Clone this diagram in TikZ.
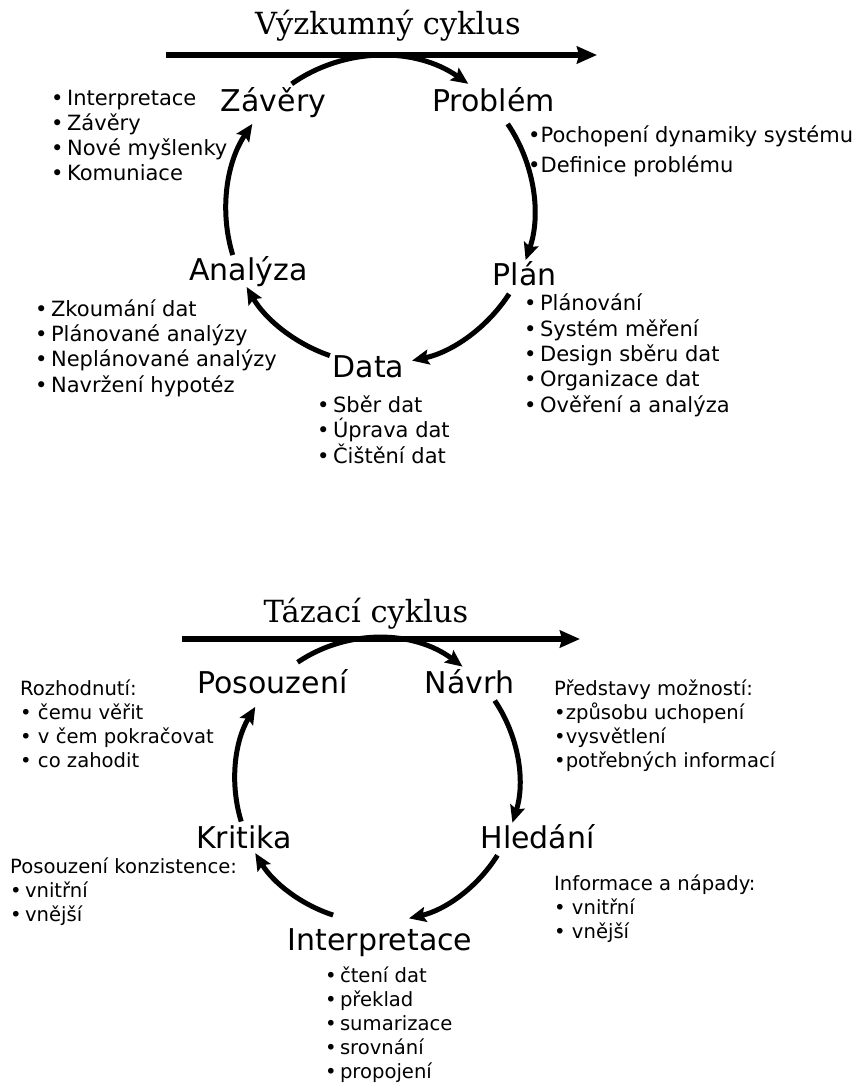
\documentclass[tikz,border=0pt]{standalone}
\usepackage{fontspec}
\setmainfont{DejaVu Sans}
\newfontfamily\titlefont{DejaVu Serif}
\usetikzlibrary{arrows.meta}

\begin{document}
\begin{tikzpicture}[x=1pt,y=-1pt,
  phase/.style={anchor=base,inner sep=0pt,font=\fontsize{30}{36}\selectfont},
  headline/.style={anchor=base,inner sep=0pt,font=\titlefont\fontsize{30.5}{36}\selectfont},
  notes/.style={anchor=base west,inner sep=0pt,align=left,font=\fontsize{21}{25.3}\selectfont},
  notesb/.style={anchor=base west,inner sep=0pt,align=left,font=\fontsize{19.6}{24}\selectfont},
  timeline/.style={line width=6pt,-{Stealth[length=20pt,width=17pt,inset=2pt]}},
  turn/.style={line width=5pt,-{Stealth[length=17pt,width=15pt,inset=3pt]}}]
\useasboundingbox (0,0) rectangle (857,1083);

% --- Vyzkumny cyklus
\node[headline] (vtitle) at (388,35) {Výzkumný cyklus};
\coordinate (vs) at (166,55);
\coordinate (ve) at (597,55);
\draw[timeline] (vs) -- (ve);
\coordinate (vc) at (380,210);
\node[phase] (zav) at (273.5,112) {Závěry};
\node[phase] (prob) at (493.5,112) {Problém};
\node[phase] (plan) at (524.5,285) {Plán};
\node[phase] (data) at (368.5,377) {Data};
\node[phase] (ana) at (248.5,280) {Analýza};
\draw[turn] ([shift={(125:154pt)}]vc) arc[start angle=125,end angle=55,radius=154pt];
\draw[turn] ([shift={(34:154pt)}]vc) arc[start angle=34,end angle=-19,radius=154pt];
\draw[turn] ([shift={(-33:154pt)}]vc) arc[start angle=-33,end angle=-78,radius=154pt];
\draw[turn] ([shift={(251:154pt)}]vc) arc[start angle=251,end angle=210,radius=154pt];
\draw[turn] ([shift={(197:154pt)}]vc) arc[start angle=197,end angle=146,radius=154pt];
% lists: node base = last line
\node[notes] (zavlist) at (51,181) {•\,Interpretace\\•\,Závěry\\•\,Nové myšlenky\\•\,Komuniace};
\node[notes] (problist) at (528,173) {•Pochopení dynamiky systému\\[4.7pt]•Definice problému};
\node[notes] (planlist) at (524,412) {•\,Plánování\\•\,Systém měření\\•\,Design sběru dat\\•\,Organizace dat\\•\,Ověření a analýza};
\node[notes] (analist) at (35,392) {•\,Zkoumání dat\\•\,Plánované analýzy\\•\,Neplánované analýzy\\•\,Navržení hypotéz};
\node[notes] (datalist) at (317,463) {•\,Sběr dat\\•\,Úprava dat\\•\,Čištění dat};

% --- Tazaci cyklus
\node[headline] (ttitle) at (366,622) {Tázací cyklus};
\coordinate (ts) at (182,639);
\coordinate (te) at (580,639);
\draw[timeline] (ts) -- (te);
\coordinate (tc) at (377,780);
\node[phase] (pos) at (272.5,693) {Posouzení};
\node[phase] (nav) at (469.5,693) {Návrh};
\node[phase] (hle) at (537.5,848) {Hledání};
\node[phase] (int) at (380,950) {Interpretace};
\node[phase] (kri) at (244,848) {Kritika};
\draw[turn] ([shift={(124:142pt)}]tc) arc[start angle=124,end angle=53,radius=142pt];
\draw[turn] ([shift={(34:142pt)}]tc) arc[start angle=34,end angle=-17.5,radius=142pt];
\draw[turn] ([shift={(-32:142pt)}]tc) arc[start angle=-32,end angle=-77,radius=142pt];
\draw[turn] ([shift={(252:142pt)}]tc) arc[start angle=252,end angle=211,radius=142pt];
\draw[turn] ([shift={(197:142pt)}]tc) arc[start angle=197,end angle=149,radius=142pt];
\node[notesb] (rozlist) at (20,767) {Rozhodnutí:\\• čemu věřit\\• v čem pokračovat\\• co zahodit};
\node[notesb] (predlist) at (554,767) {Představy možností:\\•způsobu uchopení\\•vysvětlení\\•potřebných informací};
\node[notesb] (konzlist) at (10,921) {Posouzení konzistence:\\•\,vnitřní\\•\,vnější};
\node[notesb] (infolist) at (554,938) {Informace a nápady:\\• vnitřní\\• vnější};
\node[notesb] (intlist) at (325,1078) {•\,čtení dat\\•\,překlad\\•\,sumarizace\\•\,srovnání\\•\,propojení};
\end{tikzpicture}
\end{document}
